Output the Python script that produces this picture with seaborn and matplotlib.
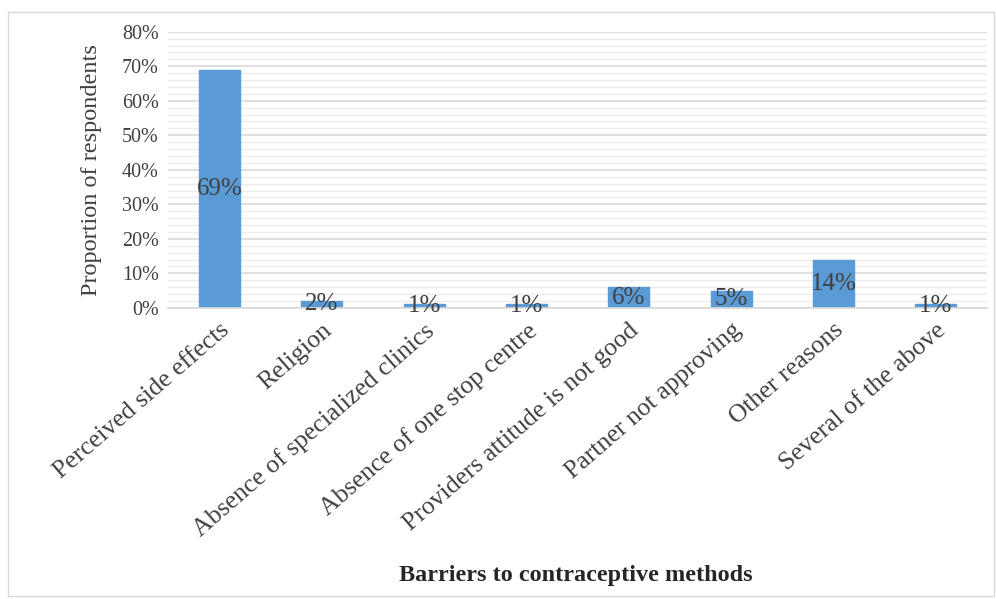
import matplotlib
matplotlib.use("Agg")
import matplotlib.pyplot as plt
import seaborn as sns
import pandas as pd
from matplotlib.patches import Rectangle
from matplotlib.ticker import MultipleLocator, FuncFormatter

categories = ["Perceived side effects", "Religion", "Absence of specialized clinics",
              "Absence of one stop centre", "Providers attitude is not good",
              "Partner not approving", "Other reasons", "Several of the above"]
values = [69, 2, 1, 1, 6, 5, 14, 1]

sns.set_theme(style="white")
plt.rcParams['font.family'] = ['Liberation Serif', 'DejaVu Serif']

df = pd.DataFrame({"cat": categories, "val": values})

fig = plt.figure(figsize=(9.96, 5.99), dpi=100)
ax = fig.add_axes([0.169, 0.486, 0.822, 0.461])
sns.barplot(data=df, x="cat", y="val", color="#5b9bd5", width=0.4, ax=ax,
            saturation=1, edgecolor="#5b9bd5")

ax.set_ylim(0, 80)
ax.yaxis.set_major_locator(MultipleLocator(10))
ax.yaxis.set_minor_locator(MultipleLocator(2))
ax.yaxis.set_major_formatter(FuncFormatter(lambda v, p: f"{int(v)}%"))
ax.grid(axis="y", which="major", color="#d9d9d9", linewidth=1.2)
ax.grid(axis="y", which="minor", color="#ececec", linewidth=1.0)
ax.set_axisbelow(True)
for s in ["top", "right", "left"]:
    ax.spines[s].set_visible(False)
ax.spines["bottom"].set_color("#d9d9d9")

text_color = "#404040"
ax.tick_params(axis="y", which="both", length=0, labelsize=14.5, labelcolor=text_color, pad=7)
ax.tick_params(axis="x", length=0, labelsize=18.5, labelcolor=text_color, pad=8)
plt.setp(ax.get_xticklabels(), rotation=41, ha="right", rotation_mode="anchor")

for i, v in enumerate(values):
    ax.text(i, v / 2, f"{v}%", ha="center", va="center", fontsize=18, color=text_color)

ax.set_ylabel("Proportion of respondents", fontsize=17.5, color=text_color, labelpad=14)
ax.set_xlabel("")
fig.text(0.578, 0.04, "Barriers to contraceptive methods", ha="center", va="center",
         fontsize=17.5, fontweight="bold", color="#262626")

fig.patches.append(Rectangle((0.008, 0.005), 0.99, 0.975, transform=fig.transFigure,
                             fill=False, edgecolor="#d9d9d9", linewidth=1))

fig.savefig("out.png", dpi=100)
